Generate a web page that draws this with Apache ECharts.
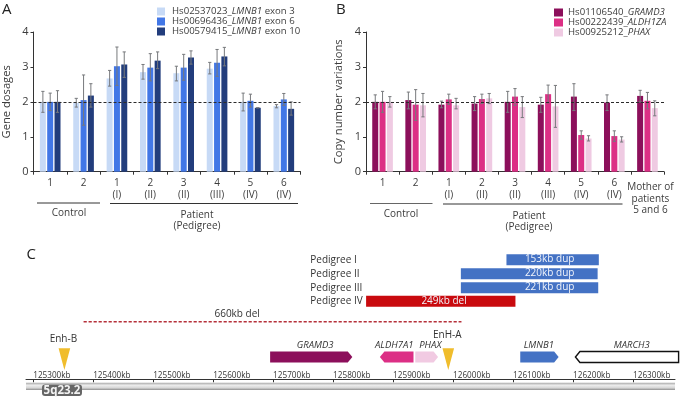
<!DOCTYPE html>
<html><head><meta charset="utf-8">
<style>html,body{margin:0;padding:0;background:#fff}#c{width:680px;height:400px}</style>
<script src="https://cdn.jsdelivr.net/npm/echarts@6/dist/echarts.min.js"></script>
</head><body><div id="c"></div>
<script>
// ---------- Panel A data ----------
const catsA = ['1','2','1\n(I)','2\n(II)','3\n(II)','4\n(III)','5\n(IV)','6\n(IV)'];
const namesA = ['Hs02537023_LMNB1 exon 3','Hs00696436_LMNB1 exon 6','Hs00579415_LMNB1 exon 10'];
const a1 = [2.0,1.97,2.67,2.85,2.82,2.95,2.0,1.88];
const a2 = [2.0,2.05,3.02,2.98,2.98,3.12,2.03,2.07];
const a3 = [2.0,2.18,3.07,3.18,3.27,3.3,1.83,1.8];
const a1Low = [1.7,1.85,2.45,2.65,2.6,2.8,1.74,1.83];
const a1High = [2.3,2.1,2.9,3.07,3.02,3.13,2.25,1.92];
const a2Low = [1.75,1.33,2.47,2.6,2.62,2.73,1.85,1.9];
const a2High = [2.25,2.77,3.57,3.38,3.36,3.5,2.22,2.24];
const a3Low = [1.7,1.85,2.7,2.95,3.08,3.03,1.83,1.62];
const a3High = [2.32,2.52,3.43,3.43,3.46,3.56,1.83,2.0];
// ---------- Panel B data ----------
const catsB = ['1','2','1\n(I)','2\n(II)','3\n(II)','4\n(III)','5\n(IV)','6\n(IV)','Mother of\npatients\n5 and 6'];
const namesB = ['Hs01106540_GRAMD3','Hs00222439_ALDH1ZA','Hs00925212_PHAX'];
const b1 = [2.0,2.05,1.92,1.95,2.0,1.92,2.15,1.98,2.17];
const b2 = [2.0,1.92,2.07,2.08,2.15,2.22,1.05,1.02,2.03];
const b3 = [2.0,1.9,1.9,2.1,1.85,1.87,0.95,0.92,1.82];
const b1Low = [1.8,1.8,1.83,1.75,1.7,1.7,1.75,1.75,2.0];
const b1High = [2.2,2.28,2.02,2.15,2.3,2.13,2.52,2.2,2.33];
const b2Low = [1.7,1.47,1.93,1.95,1.9,1.97,0.93,0.87,1.8];
const b2High = [2.3,2.35,2.22,2.22,2.38,2.48,1.17,1.17,2.27];
const b3Low = [1.85,1.57,1.8,1.95,1.55,1.27,0.88,0.85,1.6];
const b3High = [2.15,2.24,2.1,2.24,2.15,2.47,1.03,1.0,2.03];
// ---------- Panel C data (kb) ----------
const kbTicks = [125300,125400,125500,125600,125700,125800,125900,126000,126100,126200,126300];
const blockNames = ['153kb dup','220kb dup','221kb dup','249kb del'];
const blockStart = [126089,126013,126013,125855];
const blockEnd = [126243,126241,126242,126104];
const blockLabelAt = [126161,126161,126161,125985];
const pedigrees = ['Pedigree I','Pedigree II','Pedigree III','Pedigree IV'];
const delRange = [125384,126014];
const delLabel = '660kb del';
const genes = ['GRAMD3','ALDH7A1','PHAX','LMNB1','MARCH3'];
const geneStart = [125695,125878,125937,126112,126204];
const geneEnd = [125832,125934,125975,126176,126376];
const geneStrand = [1,-1,1,1,-1];
const geneLabelAt = [125770,125902,125962,126143,126298];
const enhancers = ['Enh-B','EnH-A'];
const enhancerAt = [125352,125992];

const FONT = '"Open Sans"';
const TXT = '#3c3c3c';
const coloursA = ['#c7daf6','#4277e6','#223d7c'];
const coloursB = ['#8c0f5b','#dc2f85','#efcae2'];
const BAR_W = 6, BAR_STEP = 7.3;

function errSeries(ax, name, slot, low, high){
  return {
    type:'custom', name, xAxisIndex:ax, yAxisIndex:ax, z:6, silent:true,
    data: low.map((l,i)=>[i,l,high[i]]),
    encode:{x:0,y:[1,2]},
    renderItem(p,api){
      const a=api.coord([api.value(0),api.value(1)]), b=api.coord([api.value(0),api.value(2)]);
      const x=a[0]+slot*BAR_STEP, c=1.6;
      const st={stroke:'#77797c',lineWidth:1,fill:null};
      return {type:'group',children:[
        {type:'line',shape:{x1:x,y1:a[1],x2:x,y2:b[1]},style:st},
        {type:'line',shape:{x1:x-c,y1:a[1],x2:x+c,y2:a[1]},style:st},
        {type:'line',shape:{x1:x-c,y1:b[1],x2:x+c,y2:b[1]},style:st}
      ]};
    }
  };
}
function barSeries(ax,name,vals,color,withLine){
  const s={type:'bar',name,data:vals,xAxisIndex:ax,yAxisIndex:ax,barWidth:BAR_W,barGap:'22%',
    itemStyle:{color},silent:true};
  if(withLine) s.markLine={silent:true,symbol:'none',z:8,label:{show:false},
    lineStyle:{color:'#2b2b2b',type:[3,2],width:1},data:[{yAxis:2}],animation:false};
  return s;
}
function xCat(idx,data){return {type:'category',gridIndex:idx,
  data:data.map(d=>d.startsWith('Mother')?{value:d,textStyle:{padding:[4,0,0,6]}}:d),
  axisLine:{lineStyle:{color:'#333',width:1}},
  axisTick:{show:true,length:3,lineStyle:{color:'#333'},alignWithLabel:false},
  axisLabel:{interval:0,fontFamily:FONT,fontSize:10,color:TXT,lineHeight:11.5,margin:6}};}
function yVal(idx,name){return {type:'value',gridIndex:idx,min:0,max:4,interval:1,name,nameLocation:'middle',nameGap:idx?22:21,
  nameTextStyle:{fontFamily:FONT,fontSize:11.2,color:TXT},
  splitLine:{show:false},
  axisLine:{show:true,lineStyle:{color:'#333'}},axisTick:{show:true,length:3,lineStyle:{color:'#333'}},
  axisLabel:{fontFamily:FONT,fontSize:11,color:TXT,margin:5}};}
function legendFmt(n){
  const m=n.match(/^(Hs\d+_)(\w+)(.*)$/);
  return '{a|'+m[1]+'}{i|'+m[2]+'}'+(m[3]?'{a|'+m[3]+'}':'');
}
const legendRich={a:{fontFamily:FONT,fontSize:9.6,color:TXT},i:{fontFamily:FONT,fontSize:9.6,color:TXT,fontStyle:'italic'}};

// Panel C helpers: vertical levels in the hidden y axis
const blockLevels=[10.4,24.4,38.4,52], delLevel=72.4, geneLevel=107.7, labelLevel=96.4;

function text(x,y,t,extra){return Object.assign({type:'text',silent:true,style:Object.assign({x,y,text:t,font:'10px '+FONT,fill:TXT,textAlign:'center',textVerticalAlign:'middle'},extra||{})},{});}
function gtext(x,y,t,size,fill,align){return {type:'text',silent:true,x,y,style:{text:t,font:size+'px '+FONT,fill:fill||TXT,textAlign:align||'center',textVerticalAlign:'middle'}};}
function gline(x1,x2,y,color){return {type:'line',silent:true,shape:{x1,y1:y,x2,y2:y},style:{stroke:color,lineWidth:1}};}

const cSeries=[
  { // chromosome band and ideogram label
    type:'custom',xAxisIndex:2,yAxisIndex:2,silent:true,data:[[0]],clip:false,z:1,
    renderItem(p,api){
      const l=api.coord([125288,133.5]),r=api.coord([126370,140.7]);
      const lab=api.coord([125348,141]);
      return {type:'group',children:[
        {type:'rect',shape:{x:l[0],y:l[1],width:r[0]-l[0],height:r[1]-l[1]},
         style:{fill:{type:'linear',x:0,y:0,x2:0,y2:1,colorStops:[{offset:0,color:'#a9a9a9'},{offset:.35,color:'#ececec'},{offset:.7,color:'#d6d6d6'},{offset:1,color:'#8f8f8f'}]}}},
        {type:'rect',shape:{x:lab[0]-20,y:lab[1]-5.7,width:40,height:11.4,r:3},style:{fill:'#666'}},
        {type:'text',style:{x:lab[0],y:lab[1],text:'5q23.2',font:'bold 11.5px '+FONT,fill:'#f2f2f2',textAlign:'center',textVerticalAlign:'middle'}}
      ]};
    }
  },
  { // pedigree rows
    type:'custom',xAxisIndex:2,yAxisIndex:2,silent:true,clip:false,z:3,
    data:blockNames.map((n,i)=>[blockStart[i],blockEnd[i],blockLabelAt[i],i]),
    renderItem(p,api){
      const i=api.value(3),lv=blockLevels[i];
      const a=api.coord([api.value(0),lv]),b=api.coord([api.value(1),lv]),t=api.coord([api.value(2),lv]);
      return {type:'group',children:[
        {type:'rect',shape:{x:a[0],y:a[1]-5.5,width:b[0]-a[0],height:11},style:{fill:i===3?'#c90a0e':'#4472c4'}},
        text(t[0],t[1]-.5,blockNames[i],{fill:'#f1f4fb'})
      ]};
    }
  },
  { // pedigree names
    type:'custom',xAxisIndex:2,yAxisIndex:2,silent:true,clip:false,z:3,
    data:pedigrees.map((n,i)=>[i]),
    renderItem(p,api){
      const i=api.value(0),c=api.coord([125762,blockLevels[i]]);
      return text(c[0],c[1],pedigrees[i],{textAlign:'left',fill:'#333'});
    }
  },
  { // 660kb deletion
    type:'custom',xAxisIndex:2,yAxisIndex:2,silent:true,clip:false,z:3,
    data:[[delRange[0],delRange[1]]],
    renderItem(p,api){
      const a=api.coord([api.value(0),delLevel]),b=api.coord([api.value(1),delLevel]);
      const m=api.coord([125640,delLevel-8]);
      return {type:'group',children:[
        {type:'line',shape:{x1:a[0],y1:a[1],x2:b[0],y2:b[1]},style:{stroke:'#b5303a',lineWidth:1.4,lineDash:[3.2,1.8]}},
        text(m[0],m[1],delLabel,{fill:'#333'})
      ]};
    }
  },
  { // genes
    type:'custom',xAxisIndex:2,yAxisIndex:2,silent:true,clip:false,z:3,
    data:genes.map((n,i)=>[geneStart[i],geneEnd[i],geneLabelAt[i],geneStrand[i],i]),
    renderItem(p,api){
      const i=api.value(4),s=api.value(3);
      const a=api.coord([api.value(0),geneLevel]),b=api.coord([api.value(1),geneLevel]);
      const l=api.coord([api.value(2),labelLevel]);
      const x0=a[0],x1=b[0],y=a[1],h=5.5,hd=4.5;
      const pts=s>0?[[x0,y-h],[x1-hd,y-h],[x1,y],[x1-hd,y+h],[x0,y+h]]
                   :[[x1,y-h],[x0+hd,y-h],[x0,y],[x0+hd,y+h],[x1,y+h]];
      const fills=['#8c0f5b','#dc2f85','#f1cae2','#4472c4','#fff'];
      const st=i===4?{fill:'#fff',stroke:'#111',lineWidth:1.4}:{fill:fills[i]};
      return {type:'group',children:[
        {type:'polygon',shape:{points:pts},style:st},
        text(l[0],l[1],genes[i],{font:'italic 9.5px '+FONT,fill:'#333'})
      ]};
    }
  },
  { // enhancers
    type:'custom',xAxisIndex:2,yAxisIndex:2,silent:true,clip:false,z:4,
    data:enhancers.map((n,i)=>[enhancerAt[i],i]),
    renderItem(p,api){
      const i=api.value(1),top=api.coord([api.value(0),99]),bot=api.coord([api.value(0),120.7]);
      const ly=api.coord([api.value(0),i?85.5:90]);
      return {type:'group',children:[
        {type:'polygon',shape:{points:[[top[0]-5.8,top[1]],[top[0]+5.8,top[1]],[bot[0],bot[1]]]},style:{fill:'#f0bd2c'}},
        text(ly[0]-1,ly[1],enhancers[i],{fill:'#333'})
      ]};
    }
  }
];

const option={
  animation:false,backgroundColor:'#fff',
  textStyle:{fontFamily:FONT},
  grid:[
    {left:33.5,top:32,width:267,height:139.7},
    {left:366,top:32,width:298,height:139.7},
    {left:26,top:249.3,width:649,height:130}
  ],
  legend:[
    {left:157,top:6,orient:'vertical',itemWidth:8,itemHeight:8,itemGap:-1,padding:0,data:namesA,formatter:legendFmt,
     textStyle:{rich:legendRich,padding:[0,0,0,2],height:11,lineHeight:11},selectedMode:false,icon:'rect'},
    {left:554,top:7,orient:'vertical',itemWidth:9,itemHeight:8,itemGap:-1,padding:0,data:namesB,formatter:legendFmt,
     textStyle:{rich:legendRich,padding:[0,0,0,0],height:11,lineHeight:11},selectedMode:false,icon:'rect'}
  ],
  xAxis:[xCat(0,catsA),xCat(1,catsB),
    {type:'value',gridIndex:2,min:125288,max:126370,
     axisLine:{show:true,onZero:false,lineStyle:{color:'#333',width:1}},
     axisTick:{show:true,length:3,customValues:kbTicks,lineStyle:{color:'#333'}},
     axisLabel:{show:true,inside:true,customValues:kbTicks,align:'left',margin:0,showMinLabel:true,showMaxLabel:true,hideOverlap:false,
       formatter:v=>v+'kb',fontFamily:FONT,fontSize:8.2,color:'#333'},
     splitLine:{show:false}}],
  yAxis:[yVal(0,'Gene dosages'),yVal(1,'Copy number variations'),
    {type:'value',gridIndex:2,min:0,max:130,inverse:true,show:false}],
  series:[
    barSeries(0,namesA[0],a1,coloursA[0],true),barSeries(0,namesA[1],a2,coloursA[1]),barSeries(0,namesA[2],a3,coloursA[2]),
    errSeries(0,'errA1',-1,a1Low,a1High),errSeries(0,'errA2',0,a2Low,a2High),errSeries(0,'errA3',1,a3Low,a3High),
    barSeries(1,namesB[0],b1,coloursB[0],true),barSeries(1,namesB[1],b2,coloursB[1]),barSeries(1,namesB[2],b3,coloursB[2]),
    errSeries(1,'errB1',-1,b1Low,b1High),errSeries(1,'errB2',0,b2Low,b2High),errSeries(1,'errB3',1,b3Low,b3High)
  ].concat(cSeries),
  graphic:[
    gtext(2,10,'A',15,'#222','left'),gtext(336,10,'B',15,'#222','left'),gtext(26.5,255,'C',15,'#222','left'),
    gline(37,100,203,'#333'),gline(110,298,203.5,'#333'),
    gline(370,432.5,203.5,'#666'),gline(443,622.5,204,'#333'),
    gtext(69,213.5,'Control',10,TXT),gtext(197,215,'Patient',10,TXT),gtext(197,226,'(Pedigree)',10,TXT),
    gtext(401,214,'Control',10,TXT),gtext(529,216,'Patient',10,TXT),gtext(529,227,'(Pedigree)',10,TXT)
  ]
};
echarts.init(document.getElementById('c'),null,{renderer:'canvas'}).setOption(option);
</script></body></html>
